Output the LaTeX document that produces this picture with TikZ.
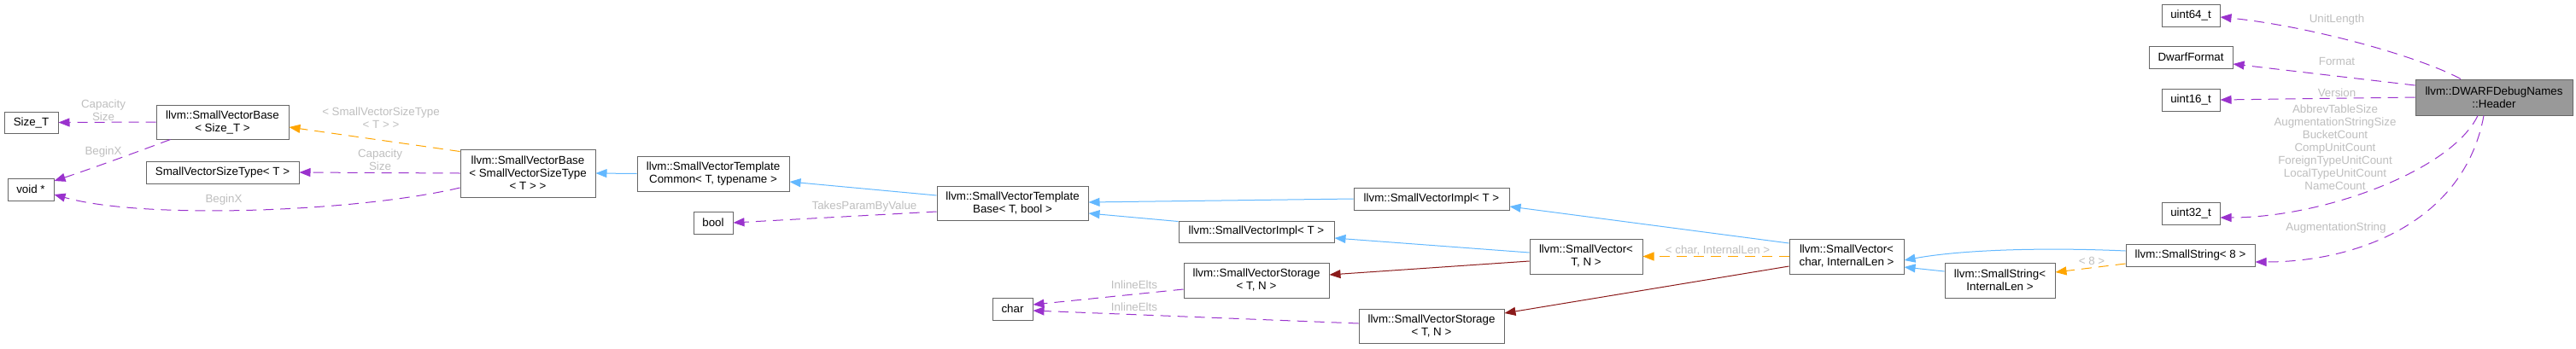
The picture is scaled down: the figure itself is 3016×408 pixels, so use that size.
\documentclass[tikz,border=0pt]{standalone}
\usepackage{fontspec}
\setmainfont{Liberation Sans}
\usetikzlibrary{arrows.meta}

\newdimen\px \px=0.75pt
\definecolor{boxgray}{HTML}{666666}
\definecolor{hdrfill}{HTML}{999999}
\definecolor{mempurple}{HTML}{9A32CD}
\definecolor{inhblue}{HTML}{63B8FF}
\definecolor{tplorange}{HTML}{FFA500}
\definecolor{compored}{HTML}{8B1A1A}
\definecolor{lblgray}{HTML}{BEBEBE}

\tikzset{
  cls/.style 2 args={draw=boxgray, line width=0.75pt, fill=white, align=center,
    inner sep=0pt, minimum width=#1\px, minimum height=#2\px,
    font=\fontsize{10pt}{11.25pt}\selectfont},
  lbl/.style={text=lblgray, align=center, inner sep=0pt,
    font=\fontsize{10pt}{11.25pt}\selectfont},
  edge/.style={line width=0.75pt, -{Triangle[length=9.75pt, width=7.5pt]}},
  mem/.style={edge, draw=mempurple, dash pattern=on 9pt off 6pt},
  inh/.style={edge, draw=inhblue},
  tpl/.style={edge, draw=tplorange, dash pattern=on 9pt off 6pt},
  compo/.style={edge, draw=compored}
}

\begin{document}
\begin{tikzpicture}[x=0.75pt, y=-0.75pt]
    \useasboundingbox (0,0) rectangle (3016,408);

    % Left part: SmallVectorBase and its members
    \node[cls={63}{25}] (sizeT) at (36.5,143.5) {Size\_T};
    \node[cls={54}{26}] (voidp) at (36,222) {void *};
    \node[cls={155}{40}] (svbst) at (260.5,143) {llvm::SmallVectorBase\\< Size\_T >};
    \node[cls={179}{26}] (svst) at (260.5,202) {SmallVectorSizeType< T >};
    \node[cls={158}{56}] (svb) at (618,203) {llvm::SmallVectorBase\\< SmallVectorSizeType\\< T > >};

    % Middle part: template common and base
    \node[cls={178}{41}] (svtc) at (835,203.5) {llvm::SmallVectorTemplate\\Common< T, typename >};
    \node[cls={46}{26}] (bool) at (835,261) {bool};
    \node[cls={177}{40}] (svtb) at (1185.5,238) {llvm::SmallVectorTemplate\\Base< T, bool >};
    \node[cls={47}{26}] (char) at (1185.5,362) {char};

    % Impl and storage
    \node[cls={182}{25}] (implb) at (1471,271.5) {llvm::SmallVectorImpl< T >};
    \node[cls={170}{41}] (stora) at (1471,328.5) {llvm::SmallVectorStorage\\< T, N >};
    \node[cls={182}{26}] (impla) at (1676,233) {llvm::SmallVectorImpl< T >};
    \node[cls={170}{40}] (storb) at (1676,382) {llvm::SmallVectorStorage\\< T, N >};

    % Small vectors and small strings
    \node[cls={132}{41}] (svtn) at (1857,300.5) {llvm::SmallVector<\\T, N >};
    \node[cls={134}{41}] (svchar) at (2162,300.5) {llvm::SmallVector<\\char, InternalLen >};
    \node[cls={129}{41}] (ssil) at (2341.5,328.5) {llvm::SmallString<\\InternalLen >};
    \node[cls={151}{26}] (ss8) at (2564.5,299) {llvm::SmallString< 8 >};

    % Right part: the header and its member types
    \node[cls={68}{26}] (u64) at (2565,18) {uint64\_t};
    \node[cls={98}{26}] (dwf) at (2565,67) {DwarfFormat};
    \node[cls={68}{26}] (u16) at (2565,117) {uint16\_t};
    \node[cls={68}{26}] (u32) at (2565,250) {uint32\_t};
    \node[cls={184}{42}, fill=hdrfill] (hdr) at (2920,114) {llvm::DWARFDebugNames\\::Header};

    % Header members
    \draw[mem] ([xshift=-39\px]hdr.north) .. controls (2830,65) and (2700,30) .. ([yshift=-2\px]u64.east);
    \node[lbl] (lUnit) at (2736,23) {UnitLength};
    \draw[mem] ([yshift=14\px]hdr.west) -- ([yshift=-8\px]dwf.east);
    \node[lbl] (lFmt) at (2736,72) {Format};
    \draw[mem] (hdr.west) -- (u16.east);
    \node[lbl] (lVer) at (2736,109) {Version};
    \draw[mem] ([xshift=-19\px]hdr.south) .. controls (2870,200) and (2720,255) .. ([yshift=-5\px]u32.east);
    \node[lbl] (lCnt) at (2734,173) {AbbrevTableSize\\AugmentationStringSize\\BucketCount\\CompUnitCount\\ForeignTypeUnitCount\\LocalTypeUnitCount\\NameCount};
    \draw[mem] ([xshift=-12\px]hdr.south) .. controls (2885,260) and (2760,307) .. ([yshift=-8\px]ss8.east);
    \node[lbl] (lAug) at (2735,267) {AugmentationString};

    % Small strings
    \draw[tpl] ([yshift=-10\px]ss8.west) -- ([yshift=9.5\px]ssil.east);
    \node[lbl] (l8) at (2449,306) {< 8 >};
    \draw[inh] ([yshift=5\px]ss8.west) .. controls (2400,290) and (2300,292) .. ([yshift=-4.5\px]svchar.east);
    \draw[inh] ([yshift=10.5\px]ssil.west) -- ([yshift=-12.5\px]svchar.east);

    % Small vectors
    \draw[tpl] (svchar.west) -- (svtn.east);
    \node[lbl] (lChar) at (2011,294) {< char, InternalLen >};
    \draw[inh] ([yshift=15.5\px]svchar.west) -- ([yshift=-9\px]impla.east);
    \draw[compo] ([yshift=-11.5\px]svchar.west) -- ([yshift=15\px]storb.east);
    \draw[inh] ([yshift=4.5\px]svtn.west) -- ([yshift=-7.5\px]implb.east);
    \draw[compo] ([yshift=-5.5\px]svtn.west) -- ([yshift=6.5\px]stora.east);

    % Impl and storage
    \draw[inh] (impla.west) -- ([yshift=1\px]svtb.east);
    \draw[inh] ([yshift=-1\px]implb.north west) -- ([yshift=-12\px]svtb.east);
    \draw[mem] ([yshift=-10.5\px]stora.west) -- ([yshift=5\px]char.east);
    \node[lbl] (lInl1) at (1328,334) {InlineElts};
    \draw[mem] ([yshift=3\px]storb.west) -- ([yshift=-2\px]char.east);
    \node[lbl] (lInl2) at (1328,360) {InlineElts};

    % Template base and common
    \draw[inh] ([yshift=9\px]svtb.west) -- ([yshift=-9.5\px]svtc.east);
    \draw[mem] ([yshift=-10\px]svtb.west) -- (bool.east);
    \node[lbl] (lTakes) at (1012,242) {TakesParamByValue};
    \draw[inh] (svtc.west) -- (svb.east);

    % Vector base
    \draw[tpl] ([yshift=-3\px]svb.north west) -- ([yshift=-6\px]svbst.east);
    \node[lbl] (lSvst) at (446,138) {< SmallVectorSizeType\\< T > >};
    \draw[mem] (svb.west) -- (svst.east);
    \node[lbl] (lCap2) at (445,187) {Capacity\\Size};
    \draw[mem] ([yshift=-17\px]svb.west) .. controls (420,248) and (170,258) .. ([yshift=-6\px]voidp.east);
    \node[lbl] (lBeg2) at (262,234) {BeginX};
    \draw[mem] (svbst.west) -- (sizeT.east);
    \node[lbl] (lCap1) at (121,129) {Capacity\\Size};
    \draw[mem] ([xshift=-61\px]svbst.south) .. controls (150,182) and (100,200) .. ([yshift=10\px]voidp.east);
    \node[lbl] (lBeg1) at (121,178) {BeginX};
\end{tikzpicture}
\end{document}
